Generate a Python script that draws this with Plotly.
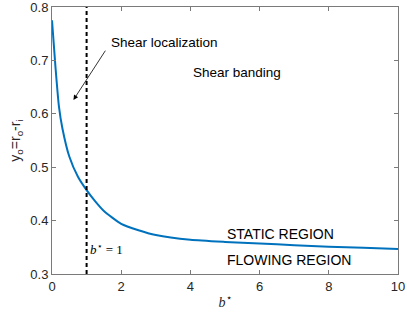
import plotly.graph_objects as go

b_star = [0, 0.1, 0.2, 0.3, 0.5, 0.75, 1.0, 1.25, 1.5, 2.0, 2.5, 3.0, 4.0, 5.0, 6.0, 7.0, 8.0, 9.0, 10.0]
y_o = [0.775, 0.688, 0.614, 0.573, 0.52, 0.482, 0.457, 0.436, 0.418, 0.394, 0.382, 0.373, 0.364, 0.360, 0.357, 0.354, 0.351, 0.349, 0.347]
x_ticks = [0, 2, 4, 6, 8, 10]
y_ticks = [0.3, 0.4, 0.5, 0.6, 0.7, 0.8]
b_crit = 1

axis_grey = "#7a7a7a"
txt = "#262626"
sans = "Liberation Sans, Arial, sans-serif"
serif = "Liberation Serif, DejaVu Serif, serif"

fig = go.Figure()
fig.add_trace(go.Scatter(x=b_star, y=y_o, mode="lines", line=dict(color="#0072BD", width=2, shape="spline", smoothing=0.6),
                         showlegend=False, hoverinfo="skip", cliponaxis=False))
fig.add_trace(go.Scatter(x=[b_crit, b_crit], y=[0.3, 0.8], mode="lines",
                         line=dict(color="black", width=2, dash="4px,3px"), showlegend=False, hoverinfo="skip"))

ann = [
    dict(x=1.64, y=0.734, text="Shear localization", xanchor="left", yanchor="middle", showarrow=False,
         font=dict(family=sans, size=13.5, color="black")),
    dict(x=0.62, y=0.626, ax=1.57, ay=0.721, axref="x", ayref="y", text="",
         showarrow=True, arrowhead=2, arrowsize=1.2, arrowwidth=0.8, arrowcolor="black"),
    dict(x=4.03, y=0.678, text="Shear banding", xanchor="left", yanchor="middle", showarrow=False,
         font=dict(family=sans, size=13.5, color="black")),
    dict(x=5.01, y=0.375, text="STATIC REGION", xanchor="left", yanchor="middle", showarrow=False,
         font=dict(family=sans, size=14, color="black")),
    dict(x=5.01, y=0.326, text="FLOWING REGION", xanchor="left", yanchor="middle", showarrow=False,
         font=dict(family=sans, size=14, color="black")),
    dict(x=1.04, y=0.347, text="<i>b</i><sup>⋆</sup> = 1", xanchor="left", yanchor="middle", showarrow=False,
         font=dict(family=serif, size=13, color="black")),
]
for a in ann:
    a.setdefault("xref", "x")
    a.setdefault("yref", "y")
fig.update_layout(annotations=ann)

fig.update_layout(
    width=407, height=316,
    margin=dict(l=52, r=9, t=7, b=42, autoexpand=False),
    paper_bgcolor="white", plot_bgcolor="white",
    xaxis=dict(range=[0, 10], tickvals=x_ticks, ticks="inside", ticklen=4, tickcolor=axis_grey, automargin=False,
               showline=True, linecolor=axis_grey, linewidth=1, mirror="allticks", showgrid=False, zeroline=False,
               ticklabeloverflow="allow",
               tickfont=dict(family=sans, size=13, color=txt),
               title=dict(text="<i>b</i><sup>⋆</sup>", font=dict(family=serif, size=14, color=txt), standoff=4)),
    yaxis=dict(range=[0.3, 0.8], tickvals=y_ticks, tickformat=".1f", ticks="inside", ticklen=4, tickcolor=axis_grey, automargin=False,
               showline=True, linecolor=axis_grey, linewidth=1, mirror="allticks", showgrid=False, zeroline=False,
               ticklabeloverflow="allow",
               tickfont=dict(family=sans, size=13, color=txt),
               title=dict(text="y<sub>o</sub>=r<sub>o</sub>-r<sub>i</sub>", font=dict(family=sans, size=14, color=txt), standoff=6)),
)

fig.write_html("out.html", config={"displayModeBar": False},
               post_script="document.body.style.margin='0';document.body.style.overflow='hidden';")
